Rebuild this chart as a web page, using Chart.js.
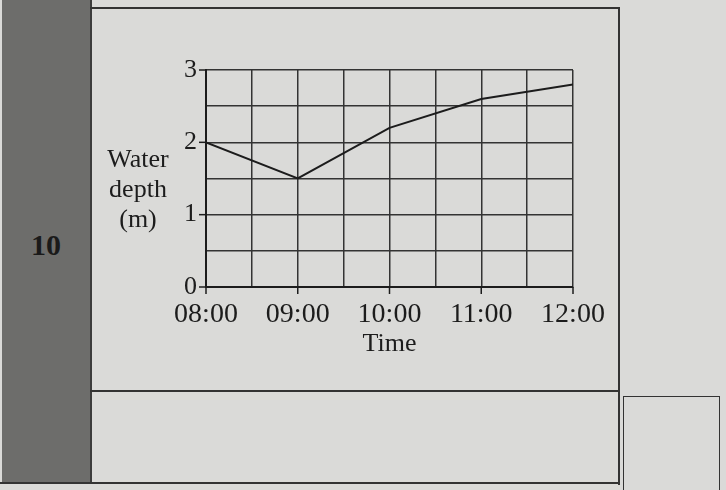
<!DOCTYPE html>
<html>
<head>
<meta charset="utf-8">
<script src="https://cdn.jsdelivr.net/npm/chart.js@4.4.1/dist/chart.umd.min.js"></script>
<style>
  body { margin: 0; background: #dadad8; }
  #page { position: relative; width: 726px; height: 490px; overflow: hidden; background: #dadad8; font-family: 'Liberation Serif', serif; }
  #strip { position: absolute; left: 2px; top: 0; width: 88px; height: 484px; background: #6d6d6b; border-right: 2px solid #3c3c3c; }
  #num { position: absolute; left: 0; width: 88px; top: 228px; text-align: center; font-weight: bold; font-size: 30px; color: #1a1a1a; }
  .ln { position: absolute; background: #333; }
  #myChart { position: absolute; left: 0; top: 0; }
</style>
</head>
<body>
<div id="page">
  <div id="strip"><div id="num">10</div></div>
  <div class="ln" style="left:90px; top:7px; width:530px; height:2px;"></div>
  <div class="ln" style="left:618px; top:7px; width:2px; height:478px;"></div>
  <div class="ln" style="left:90px; top:390px; width:530px; height:2px;"></div>
  <div class="ln" style="left:0; top:482px; width:620px; height:2px;"></div>
  <div class="ln" style="left:623px; top:396px; width:97px; height:1px;"></div>
  <div class="ln" style="left:623px; top:396px; width:1px; height:94px;"></div>
  <div class="ln" style="left:719px; top:396px; width:1px; height:94px;"></div>
  <canvas id="myChart" width="726" height="490"></canvas>
</div>
<script>
const timeLabels = ['08:00', '09:00', '10:00', '11:00', '12:00'];
const hours = [8, 9, 10, 11, 12];
const depths = [2.0, 1.5, 2.2, 2.6, 2.8];
const depthTicks = [0, 1, 2, 3];
const yTitleLines = ['Water', 'depth', '(m)'];

const ink = '#1c1c1c';
const serif = 'Liberation Serif';

// small outward tick marks, only on whole hours / whole metres
const tickMarks = {
    id: 'tickMarks',
    afterDraw(chart) {
        const ctx = chart.ctx;
        const x = chart.scales.x, y = chart.scales.y;
        ctx.save();
        ctx.strokeStyle = ink;
        ctx.lineWidth = 1.5;
        hours.forEach(function (h) {
            const px = x.getPixelForValue(h);
            ctx.beginPath();
            ctx.moveTo(px, y.bottom);
            ctx.lineTo(px, y.bottom + 7);
            ctx.stroke();
        });
        depthTicks.forEach(function (d) {
            const py = y.getPixelForValue(d);
            ctx.beginPath();
            ctx.moveTo(x.left, py);
            ctx.lineTo(x.left - 7, py);
            ctx.stroke();
        });
        // horizontal y-axis title
        ctx.fillStyle = ink;
        ctx.font = '26px "' + serif + '"';
        ctx.textAlign = 'center';
        ctx.textBaseline = 'middle';
        yTitleLines.forEach(function (t, i) {
            ctx.fillText(t, 138, 160 + i * 30);
        });
        ctx.restore();
    }
};

let ctx = document.getElementById('myChart').getContext('2d');
let myChart = new Chart(ctx, {
    type: 'line',
    data: {
        datasets: [{
            label: 'Water depth',
            data: hours.map(function (h, i) { return { x: h, y: depths[i] }; }),
            borderColor: ink,
            borderWidth: 2,
            pointRadius: 0,
            tension: 0,
            fill: false
        }]
    },
    options: {
        responsive: false,
        devicePixelRatio: 1,
        animation: false,
        layout: { padding: { left: 0, top: 70, right: 153, bottom: 129 } },
        plugins: { legend: { display: false }, tooltip: { enabled: false } },
        scales: {
            x: {
                type: 'linear',
                min: 8,
                max: 12,
                afterFit: function (scale) { scale.height = 74; },
                border: { color: ink, width: 2 },
                grid: { color: '#333', lineWidth: 1.5, drawTicks: false },
                ticks: {
                    stepSize: 0.5,
                    padding: 11,
                    maxRotation: 0,
                    autoSkip: false,
                    color: ink,
                    font: { family: serif, size: 28 },
                    callback: function (v) {
                        const i = hours.indexOf(v);
                        return i >= 0 ? timeLabels[i] : '';
                    }
                },
                title: {
                    display: true,
                    text: 'Time',
                    color: ink,
                    font: { family: serif, size: 26 },
                    padding: { top: 0, bottom: 1 }
                }
            },
            y: {
                min: 0,
                max: 3,
                afterFit: function (scale) { scale.width = 206; },
                border: { color: ink, width: 2 },
                grid: { color: '#333', lineWidth: 1.5, drawTicks: false },
                ticks: {
                    stepSize: 0.5,
                    padding: 9,
                    color: ink,
                    font: { family: serif, size: 26 },
                    callback: function (v) {
                        return depthTicks.indexOf(v) >= 0 ? String(v) : '';
                    }
                }
            }
        }
    },
    plugins: [tickMarks]
});
</script>
</body>
</html>
